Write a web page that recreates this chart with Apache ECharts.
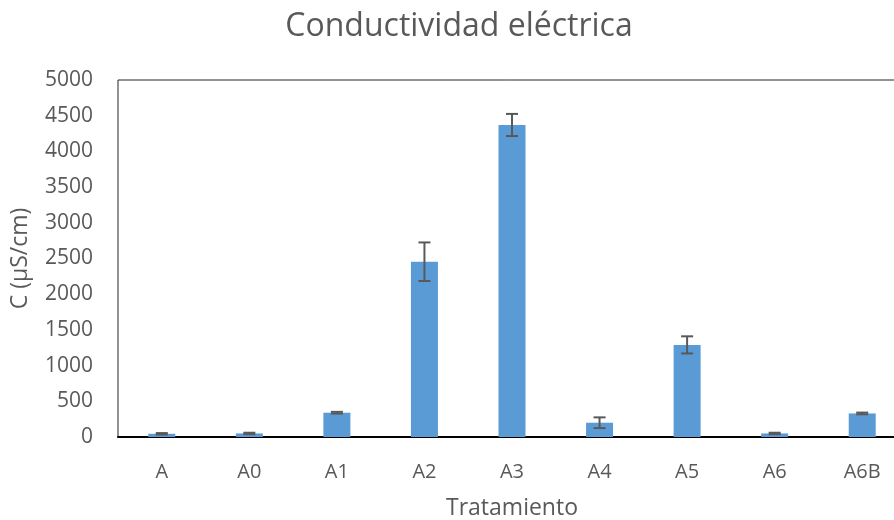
<!DOCTYPE html>
<html>
<head>
<meta charset="utf-8">
<script src="https://cdn.jsdelivr.net/npm/echarts@6/dist/echarts.min.js"></script>
<style>
  html, body { margin: 0; padding: 0; background: #fff; }
  #chart { width: 894px; height: 520px; }
</style>
</head>
<body>
<div id="chart"></div>
<script>
var categories = ['A', 'A0', 'A1', 'A2', 'A3', 'A4', 'A5', 'A6', 'A6B'];
var values = [45, 50, 340, 2455, 4370, 200, 1290, 50, 330];
var errors = [10, 10, 12, 270, 155, 75, 120, 10, 12];

var textColor = '#595959';
var font = 'Open Sans';

var errorData = categories.map(function (c, i) {
    return [i, values[i] - errors[i], values[i] + errors[i]];
});

var myChart = echarts.init(document.getElementById('chart'));
myChart.setOption({
    animation: false,
    title: {
        text: 'Conductividad eléctrica',
        left: 454,
        top: 6,
        textAlign: 'center',
        textStyle: { color: textColor, fontFamily: font, fontSize: 32, fontWeight: 'normal' }
    },
    grid: {
        left: 118, top: 80, right: -12, bottom: 83,
        outerBoundsMode: 'none',
        containLabel: false,
        show: true, borderColor: '#262626', borderWidth: 1
    },
    xAxis: {
        type: 'category',
        data: categories,
        name: 'Tratamiento',
        nameLocation: 'middle',
        nameGap: 60,
        nameTextStyle: { color: textColor, fontFamily: font, fontSize: 23 },
        axisLine: { lineStyle: { color: '#000', width: 2 } },
        axisTick: { show: false },
        axisLabel: { color: textColor, fontFamily: font, fontSize: 20, margin: 25 }
    },
    yAxis: {
        type: 'value',
        min: 0,
        max: 5000,
        interval: 500,
        name: 'C (µS/cm)',
        nameLocation: 'middle',
        nameGap: 86,
        nameTextStyle: { color: textColor, fontFamily: font, fontSize: 23 },
        axisLine: { show: false },
        axisTick: { show: false },
        splitLine: { show: false },
        axisLabel: {
            color: textColor, fontFamily: font, fontSize: 21, margin: 25,
            formatter: function (v) { return String(v); }
        }
    },
    series: [{
        type: 'bar',
        data: values,
        barWidth: 27,
        itemStyle: { color: '#5B9BD5' }
    }, {
        type: 'custom',
        data: errorData,
        z: 10,
        renderItem: function (params, api) {
            var x = api.value(0);
            var lo = api.coord([x, api.value(1)]);
            var hi = api.coord([x, api.value(2)]);
            var half = 6;
            var style = { stroke: '#595959', lineWidth: 2 };
            return {
                type: 'group',
                children: [
                    { type: 'line', shape: { x1: hi[0], y1: hi[1], x2: lo[0], y2: lo[1] }, style: style },
                    { type: 'line', shape: { x1: hi[0] - half, y1: hi[1], x2: hi[0] + half, y2: hi[1] }, style: style },
                    { type: 'line', shape: { x1: lo[0] - half, y1: lo[1], x2: lo[0] + half, y2: lo[1] }, style: style }
                ]
            };
        }
    }]
});
</script>
</body>
</html>
